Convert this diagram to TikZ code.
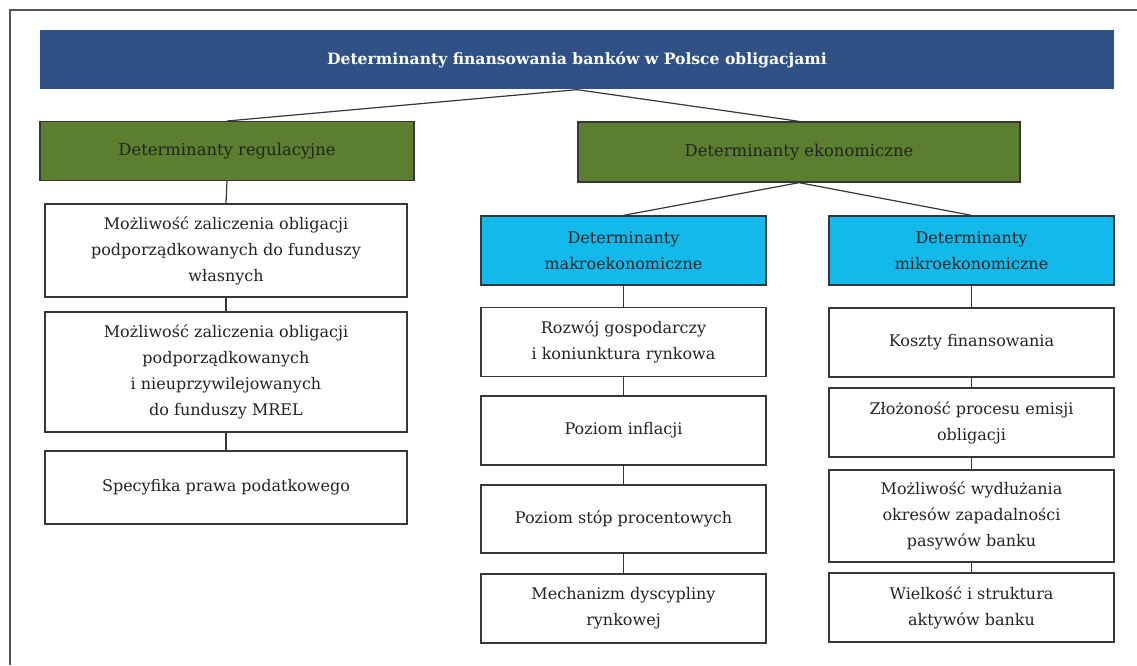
\documentclass[tikz,border=0pt]{standalone}
\usepackage{fontspec}
\setmainfont{DejaVu Serif}
\definecolor{dtblue}{RGB}{47,81,134}
\definecolor{dtgreen}{RGB}{91,127,47}
\definecolor{dtcyan}{RGB}{18,185,234}
\definecolor{dtframe}{RGB}{85,85,85}
\definecolor{dtline}{RGB}{55,55,55}
\definecolor{dttext}{RGB}{35,35,35}
\usetikzlibrary{positioning}

\tikzset{
  box/.style={draw=dtline, line width=1pt, inner sep=2pt, align=center, text=dttext,
    font=\fontsize{12}{19.5}\selectfont},
  titlebox/.style={box, draw=none, fill=dtblue, text=white, font=\fontsize{11.7}{14}\selectfont\bfseries,
    minimum width=805.5pt, minimum height=44.25pt},
  groupbox/.style={box, fill=dtgreen, minimum height=44pt, font=\fontsize{12.3}{15}\selectfont},
  subbox/.style={box, fill=dtcyan, minimum width=213.75pt, minimum height=51.75pt},
  leafbox/.style={box, fill=white, minimum width=213.75pt, minimum height=51.75pt},
  regbox/.style={box, fill=white, minimum width=271.5pt},
  link/.style={draw=dtline, line width=0.9pt}
}

\begin{document}
\begin{tikzpicture}[x=0.75pt, y=-0.75pt]
  \useasboundingbox (0,0) rectangle (1137,665);
  % outer frame (only left and top edges visible)
  \draw[dtframe, line width=1.3pt] (10,665) -- (10,10) -- (1137,10);

  % Title
  \node[titlebox] (title) at (577,59.5) {Determinanty finansowania banków w Polsce obligacjami};

  % Level 1
  \node[groupbox, minimum width=280.5pt] (reg) at (227,151) {Determinanty regulacyjne};
  \node[groupbox, minimum width=331.5pt, minimum height=45pt] (eko) at (799,152) {Determinanty ekonomiczne};

  % Level 2
  \node[subbox] (makro) at (623.5,250.5) {Determinanty\\makroekonomiczne};
  \node[subbox] (mikro) at (971.5,250.5) {Determinanty\\mikroekonomiczne};

  % Regulatory column
  \node[regbox, minimum height=69.75pt] (reg1) at (226,250.5) {Możliwość zaliczenia obligacji\\podporządkowanych do funduszy\\własnych};
  \node[regbox, minimum height=90pt] (reg2) at (226,372) {Możliwość zaliczenia obligacji\\podporządkowanych\\i nieuprzywilejowanych\\do funduszy MREL};
  \node[regbox, minimum height=54.75pt] (reg3) at (226,487.5) {Specyfika prawa podatkowego};

  % Macro column
  \node[leafbox] (mak1) at (623.5,342) {Rozwój gospodarczy\\i koniunktura rynkowa};
  \node[leafbox] (mak2) at (623.5,430.5) {Poziom inflacji};
  \node[leafbox, minimum height=51pt] (mak3) at (623.5,519) {Poziom stóp procentowych};
  \node[leafbox] (mak4) at (623.5,608.5) {Mechanizm dyscypliny\\rynkowej};

  % Micro column
  \node[leafbox] (mik1) at (971.5,342.5) {Koszty finansowania};
  \node[leafbox] (mik2) at (971.5,422.5) {Złożoność procesu emisji\\obligacji};
  \node[leafbox, minimum height=69pt] (mik3) at (971.5,516) {Możliwość wydłużania\\okresów zapadalności\\pasywów banku};
  \node[leafbox] (mik4) at (971.5,607.5) {Wielkość i struktura\\aktywów banku};

  % Connectors
  \draw[link] (reg.north) -- (title.south) -- (eko.north);
  \draw[link] (makro.north) -- (eko.south) -- (mikro.north);
  \draw[link] (reg.south) -- (reg1.north);
  \draw[link] (reg1.south) -- (reg2.north);
  \draw[link] (reg2.south) -- (reg3.north);
  \draw[link] (makro.south) -- (mak1.north);
  \draw[link] (mak1.south) -- (mak2.north);
  \draw[link] (mak2.south) -- (mak3.north);
  \draw[link] (mak3.south) -- (mak4.north);
  \draw[link] (mikro.south) -- (mik1.north);
  \draw[link] (mik1.south) -- (mik2.north);
  \draw[link] (mik2.south) -- (mik3.north);
  \draw[link] (mik3.south) -- (mik4.north);
\end{tikzpicture}
\end{document}
